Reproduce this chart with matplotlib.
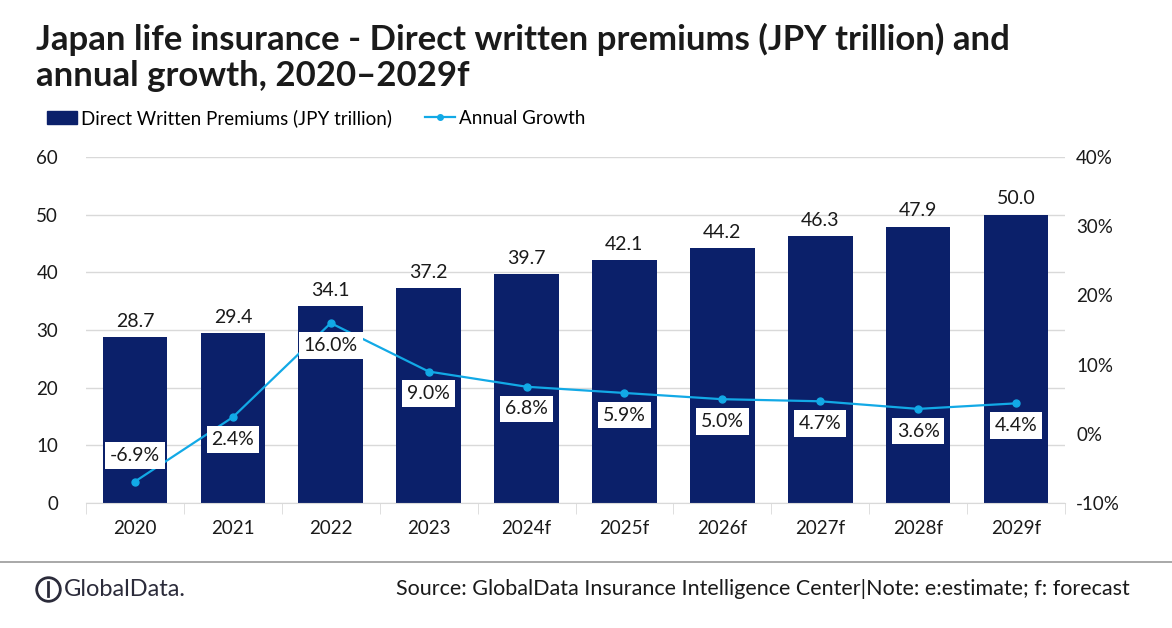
import numpy as np
import matplotlib
matplotlib.use('Agg')
import matplotlib.pyplot as plt
from matplotlib.lines import Line2D

# data
years = ['2020', '2021', '2022', '2023', '2024f', '2025f', '2026f', '2027f', '2028f', '2029f']
premiums = [28.7, 29.4, 34.1, 37.2, 39.7, 42.1, 44.2, 46.3, 47.9, 50.0]
growth = [-6.9, 2.4, 16.0, 9.0, 6.8, 5.9, 5.0, 4.7, 3.6, 4.4]

bar_color = '#0B206A'
line_color = '#12A9E6'
font = 'Lato'

plt.rcParams['font.family'] = [font, 'DejaVu Sans']

fig = plt.figure(figsize=(11.72, 6.28), dpi=100)
ax = fig.add_axes([86 / 1172, 1 - 503 / 628, (1065 - 86) / 1172, (503 - 157) / 628])
ax2 = ax.twinx()

x = np.arange(len(years))
ax.bar(x, premiums, width=0.66, color=bar_color, zorder=2)
for xi, v in zip(x, premiums):
    ax.text(xi, v + 1.3, f'{v:.1f}', ha='center', va='bottom', fontsize=14, color='#1a1a1a')

ax.set_ylim(0, 60)
ax.set_xlim(-0.5, len(years) - 0.5)
ax.set_yticks(range(0, 61, 10))
ax.grid(axis='y', color='#d9d9d9', linewidth=1, zorder=0)
ax.set_axisbelow(True)
ax.set_xticks(x)
ax.set_xticklabels(years)
ax.set_xticks(np.arange(-0.5, len(years), 1), minor=True)
ax.tick_params(axis='x', which='major', length=0, pad=12, labelsize=13.5, colors='#1a1a1a')
ax.tick_params(axis='x', which='minor', length=8, color='#d9d9d9', direction='out')
ax.tick_params(axis='y', length=0, pad=20, labelsize=13.5, colors='#1a1a1a')
for s in ['top', 'right', 'left']:
    ax.spines[s].set_visible(False)
ax.spines['bottom'].set_color('#d9d9d9')

ax2.plot(x, growth, color=line_color, marker='o', markersize=5, linewidth=1.6, zorder=3)
ax2.set_ylim(-10, 40)
ax2.set_yticks(range(-10, 41, 10))
ax2.set_yticklabels([f'{t}%' for t in range(-10, 41, 10)])
ax2.tick_params(axis='y', length=0, pad=8, labelsize=13.5, colors='#1a1a1a')
for s in ax2.spines.values():
    s.set_visible(False)

for i, (xi, g) in enumerate(zip(x, growth)):
    off = 3.8 if i == 0 else -3.2
    ax2.text(xi, g + off, f'{g:.1f}%', ha='center', va='center', fontsize=14, color='#1a1a1a',
             bbox=dict(facecolor='white', edgecolor='none', pad=3.5), zorder=4)

# title
fig.text(36 / 1172, 1 - 39 / 628, 'Japan life insurance - Direct written premiums (JPY trillion) and',
         fontsize=25, fontweight='bold', color='#1a1a1a', va='center')
fig.text(36 / 1172, 1 - 76 / 628, 'annual growth, 2020\u20132029f',
         fontsize=25, fontweight='bold', color='#1a1a1a', va='center')

# legend
handles = [plt.Rectangle((0, 0), 1, 1, color=bar_color),
           Line2D([0], [0], color=line_color, marker='o', markersize=4, linewidth=1.6)]
fig.legend(handles, ['Direct Written Premiums (JPY trillion)', 'Annual Growth'],
           loc='center left', bbox_to_anchor=(30 / 1172, 1 - 118 / 628), ncol=2, frameon=False,
           fontsize=13.5, handlelength=1.6, handletextpad=0.2, columnspacing=1.8)

# footer
fig.add_artist(Line2D([0, 1], [1 - 562 / 628] * 2, color='#999999', linewidth=1.2))
fig.add_artist(Line2D([48 / 1172], [1 - 589 / 628], marker='o', markersize=17, markerfacecolor='none',
                      markeredgecolor='#2b2b3a', markeredgewidth=2))
fig.add_artist(Line2D([48 / 1172] * 2, [1 - 582 / 628, 1 - 596 / 628], color='#2b2b3a', linewidth=2))
fig.text(64 / 1172, 1 - 589 / 628, 'GlobalData.', fontsize=17, color='#2b2b3a', va='center')
fig.text(1130 / 1172, 1 - 589 / 628,
         'Source: GlobalData Insurance Intelligence Center|Note: e:estimate; f: forecast',
         fontsize=15.5, color='#1a1a1a', va='center', ha='right')

fig.savefig('out.png', dpi=100)
